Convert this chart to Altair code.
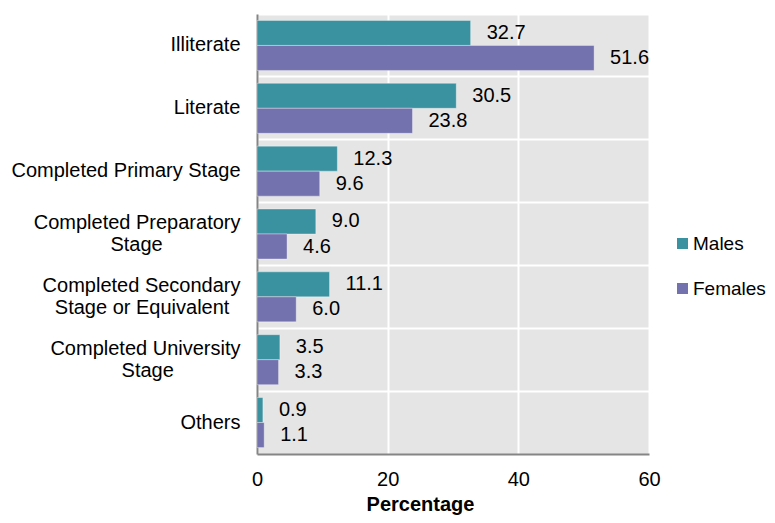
import altair as alt
import pandas as pd

NB = "\u00a0"
WJ = "\u2060"
categories = [
    "Illiterate",
    "Literate",
    "Completed Primary Stage",
    "Completed Preparatory|Stage" + NB * 14 + WJ,
    "Completed Secondary|Stage or Equivalent" + NB * 2 + WJ,
    "Completed University|Stage" + NB * 12 + WJ,
    "Others",
]
series = ["Males", "Females"]
males = [32.7, 30.5, 12.3, 9.0, 11.1, 3.5, 0.9]
females = [51.6, 23.8, 9.6, 4.6, 6.0, 3.3, 1.1]
colors = ["#3A919F", "#7371AE"]

rows = []
for c, m, f in zip(categories, males, females):
    rows.append({"cat": c, "sex": "Males", "value": m})
    rows.append({"cat": c, "sex": "Females", "value": f})
df = pd.DataFrame(rows)

FONT = "Liberation Sans"
FS = 20
GREY = "#858585"

base = alt.Chart(df).encode(
    y=alt.Y(
        "cat:N",
        sort=categories,
        scale=alt.Scale(paddingInner=0, paddingOuter=0),
        axis=alt.Axis(
            title=None,
            labelExpr="split(datum.label, '|')",
            labelOffset={"condition": {"test": "indexof(datum.value, '|') >= 0", "value": -11}, "value": 0},
            ticks=False,
            grid=True,
            gridColor="white",
            gridWidth=2,
            bandPosition=0,
            labelPadding=17,
            labelLimit=400,
            labelFontSize=FS,
            labelLineHeight=22,
            labelColor="black",
            domainColor=GREY,
            domainWidth=2,
        ),
    ),
    yOffset=alt.YOffset("sex:N", sort=series, scale=alt.Scale(paddingOuter=0.257, paddingInner=0)),
    x=alt.X(
        "value:Q",
        scale=alt.Scale(domain=[0, 60], nice=False),
        axis=alt.Axis(
            values=[0, 20, 40, 60],
            title="Percentage",
            titleFontWeight="bold",
            titleFontSize=FS,
            titleColor="black",
            titlePadding=5,
            titleX=163,
            titleAlign="center",
            labelFontSize=FS,
            labelColor="black",
            labelPadding=15,
            labelFlush=False,
            ticks=False,
            gridColor="white",
            gridWidth=2,
            domainColor=GREY,
            domainWidth=2,
        ),
    ),
)

bars = base.mark_bar(stroke="white", strokeWidth=1, strokeOpacity=0.35).encode(
    color=alt.Color(
        "sex:N",
        sort=series,
        scale=alt.Scale(domain=series, range=colors),
        legend=alt.Legend(
            title=None,
            orient="none",
            legendX=416,
            legendY=220,
            symbolType="square",
            symbolSize=121,
            symbolStrokeWidth=0,
            labelFontSize=19,
            labelColor="black",
            labelOffset=1,
            rowPadding=25,
            padding=0,
        ),
    )
)

labels = base.mark_text(align="left", dx=16, fontSize=FS, color="black", font=FONT).encode(
    text=alt.Text("value:Q", format=".1f")
)

chart = (
    alt.layer(bars, labels)
    .properties(
        width=392,
        height=440,
        autosize=alt.AutoSizeParams(type="none"),
        padding={"left": 249, "top": 6, "right": 118, "bottom": 61},
    )
    .configure(font=FONT)
    .configure_view(fill="#E5E5E5", stroke=None)
)

chart.save("out.html", embed_options={"renderer": "svg", "actions": False})
